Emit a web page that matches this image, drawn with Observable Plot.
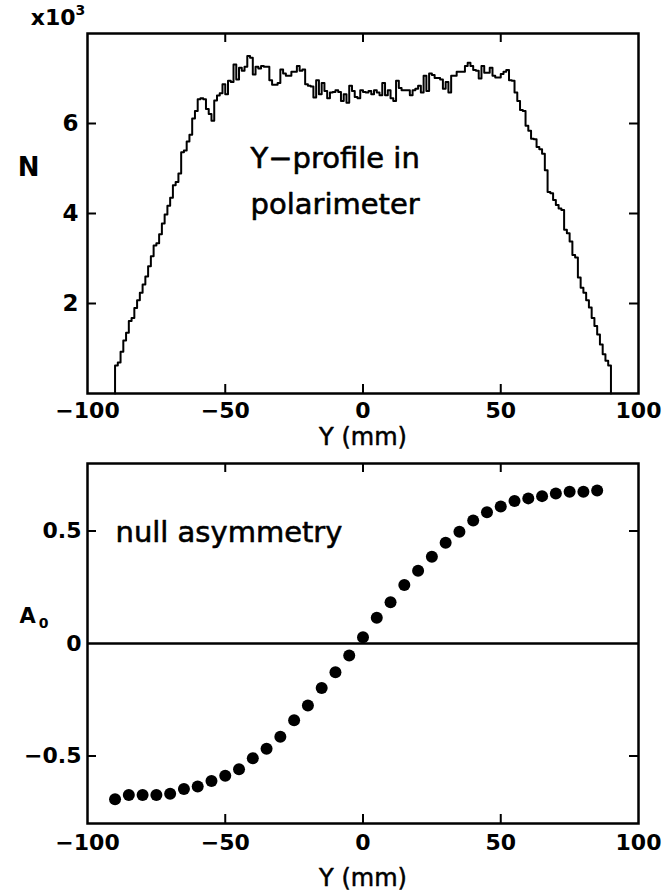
<!DOCTYPE html>
<html><head><meta charset="utf-8">
<script src="https://cdn.jsdelivr.net/npm/d3@7"></script>
<script src="https://cdn.jsdelivr.net/npm/@observablehq/plot@0.6"></script>
<style>
body{margin:0;background:#fff;}
#wrap{position:relative;width:663px;height:895px;background:#fff;}
#topPanel,#botPanel{position:absolute;left:0;}
#topPanel{top:0}#botPanel{top:450px}
</style></head><body><div id="wrap"><div id="topPanel"></div><div id="botPanel"></div></div>
<script>
// ---- Top panel: Y-profile histogram (counts in units of 10^3), 1 mm bins ----
const histBinStart = [-90,-89,-88,-87,-86,-85,-84,-83,-82,-81,-80,-79,-78,-77,-76,-75,-74,-73,-72,-71,
 -70,-69,-68,-67,-66,-65,-64,-63,-62,-61,-60,-59,-58,-57,-56,-55,-54,-53,-52,-51,
 -50,-49,-48,-47,-46,-45,-44,-43,-42,-41,-40,-39,-38,-37,-36,-35,-34,-33,-32,-31,
 -30,-29,-28,-27,-26,-25,-24,-23,-22,-21,-20,-19,-18,-17,-16,-15,-14,-13,-12,-11,
 -10,-9,-8,-7,-6,-5,-4,-3,-2,-1,0,1,2,3,4,5,6,7,8,9,
 10,11,12,13,14,15,16,17,18,19,20,21,22,23,24,25,26,27,28,29,
 30,31,32,33,34,35,36,37,38,39,40,41,42,43,44,45,46,47,48,49,
 50,51,52,53,54,55,56,57,58,59,60,61,62,63,64,65,66,67,68,69,
 70,71,72,73,74,75,76,77,78,79,80,81,82,83,84,85,86,87,88,89];
const histLastEdge = 90;
const histCounts = [0.62,0.69,0.93,1.18,1.35,1.61,1.68,1.90,2.07,2.24,2.42,2.60,2.83,3.05,3.29,3.34,3.54,3.78,3.98,4.17,
 4.35,4.63,4.70,4.89,5.36,5.40,5.60,5.75,6.11,6.28,6.54,6.56,6.54,6.32,6.21,6.06,6.51,6.62,6.67,6.87,
 6.65,6.95,6.92,7.31,6.98,7.24,7.17,7.26,7.50,7.46,7.09,7.26,7.22,7.28,7.26,7.26,6.96,6.86,6.86,6.90,
 7.20,7.11,7.06,7.06,7.15,7.15,7.28,7.17,7.20,6.87,6.84,6.82,6.58,6.96,6.65,6.90,6.72,6.56,6.69,6.70,
 6.74,6.70,6.50,6.65,6.46,6.84,6.72,6.59,6.56,6.74,6.70,6.69,6.72,6.65,6.74,6.69,6.63,6.90,6.63,6.74,
 6.56,6.50,6.95,6.79,6.74,6.74,6.74,6.63,6.74,6.77,6.84,6.69,7.06,6.72,7.11,7.08,7.01,7.01,6.98,6.77,
 6.92,6.69,7.06,7.06,7.15,7.15,7.15,7.28,7.35,7.28,7.19,7.17,7.00,7.28,7.13,7.13,7.24,7.06,7.02,7.02,
 7.10,7.15,7.19,6.96,6.95,6.69,6.50,6.30,6.28,5.95,5.84,5.66,5.65,5.48,5.43,5.33,4.96,4.48,4.45,4.30,
 4.19,4.11,4.08,3.64,3.56,3.38,3.08,3.02,2.58,2.35,2.24,2.07,1.91,1.68,1.50,1.31,1.09,0.87,0.73,0.62];

// ---- Bottom panel: null asymmetry ----
const asymY = [-90,-85,-80,-75,-70,-65,-60,-55,-50,-45,-40,-35,-30,-25,-20,-15,-10,-5,
 0,5,10,15,20,25,30,35,40,45,50,55,60,65,70,75,80,85];
const asymA = [-0.692,-0.673,-0.673,-0.673,-0.668,-0.647,-0.636,-0.611,-0.588,-0.559,-0.510,-0.468,-0.414,-0.341,-0.276,-0.198,-0.128,-0.053,
 0.028,0.114,0.183,0.260,0.323,0.386,0.448,0.497,0.547,0.583,0.609,0.633,0.645,0.655,0.667,0.674,0.674,0.680];

// ---- Ticks / labels ----
const xTickLabelValues = [-100,-50,0,50,100];
const xInnerTicks = [-50,0,50];
const topYTicks = [2,4,6];
const botYTicks = [-0.5,0,0.5];
const botYInnerTicks = [-0.5,0.5];

const FONT = "DejaVu Sans";
const fmt = d => (d < 0 ? "\u2212" : "") + Math.abs(d);

const histPts = [{x: histBinStart[0], y: 0}]
  .concat(histBinStart.map((x, i) => ({x, y: histCounts[i]})))
  .concat([{x: histLastEdge, y: 0}]);

const frameH = 360, frameW = 551, tickLen = 9;

function innerTicks(xt, yt) {
  return [
    Plot.tickX(xt, {x: d => d, insetTop: frameH - tickLen, strokeWidth: 2}),
    Plot.tickX(xt, {x: d => d, insetBottom: frameH - tickLen, strokeWidth: 2}),
    Plot.tickY(yt, {y: d => d, insetRight: frameW - tickLen, strokeWidth: 2}),
    Plot.tickY(yt, {y: d => d, insetLeft: frameW - tickLen, strokeWidth: 2})
  ];
}

const topPlot = Plot.plot({
  width: 663, height: 450,
  marginTop: 33, marginBottom: 57, marginLeft: 87, marginRight: 25,
  style: {fontFamily: FONT, background: "white", color: "black", overflow: "visible"},
  x: {domain: [-100, 100]},
  y: {domain: [0, 8]},
  marks: [
    Plot.line(histPts, {x: "x", y: "y", curve: "step-after", stroke: "black", strokeWidth: 2}),
    ...innerTicks(xInnerTicks, topYTicks),
    Plot.frame({stroke: "black", strokeWidth: 2.5}),
    Plot.axisX(xTickLabelValues, {anchor: "bottom", tickSize: 0, tickPadding: 9, fontSize: 22, fontWeight: "bold", tickFormat: fmt, label: null}),
    Plot.axisY(topYTicks, {anchor: "left", tickSize: 0, tickPadding: 9, fontSize: 23, fontWeight: "bold", tickFormat: fmt, label: null}),
    Plot.text(["Y (mm)"], {frameAnchor: "bottom", dy: 44, fontSize: 24, lineAnchor: "middle", fill: "black", stroke: "black", strokeWidth: 0.5}),
    Plot.text(["N"], {frameAnchor: "left", dx: -59, dy: -46, fontSize: 26, fontWeight: "bold", lineAnchor: "middle", textAnchor: "middle"}),
    Plot.text(["x10"], {frameAnchor: "top-left", dx: -12, dy: -16, fontSize: 22, fontWeight: "bold", lineAnchor: "middle", textAnchor: "end"}),
    Plot.text(["3"], {frameAnchor: "top-left", dx: -12, dy: -23, fontSize: 14, fontWeight: "bold", lineAnchor: "middle", textAnchor: "start"}),
    Plot.text(["Y\u2212profile in"], {frameAnchor: "top-left", dx: 163, dy: 125, fontSize: 29, lineAnchor: "middle", textAnchor: "start", fill: "black", stroke: "black", strokeWidth: 0.6}),
    Plot.text(["polarimeter"], {frameAnchor: "top-left", dx: 163, dy: 171, fontSize: 29, lineAnchor: "middle", textAnchor: "start", fill: "black", stroke: "black", strokeWidth: 0.6})
  ]
});
document.getElementById("topPanel").appendChild(topPlot);

const asymData = asymY.map((y, i) => ({y, a: asymA[i]}));

const botPlot = Plot.plot({
  width: 663, height: 445,
  marginTop: 13, marginBottom: 72, marginLeft: 87, marginRight: 25,
  style: {fontFamily: FONT, background: "white", color: "black", overflow: "visible"},
  x: {domain: [-100, 100]},
  y: {domain: [-0.8, 0.8]},
  marks: [
    Plot.ruleY([0], {stroke: "black", strokeWidth: 2.5}),
    Plot.dot(asymData, {x: "y", y: "a", r: 6, fill: "black", stroke: "none"}),
    ...innerTicks(xInnerTicks, botYInnerTicks),
    Plot.frame({stroke: "black", strokeWidth: 2.5}),
    Plot.axisX(xTickLabelValues, {anchor: "bottom", tickSize: 0, tickPadding: 11, fontSize: 22, fontWeight: "bold", tickFormat: fmt, label: null}),
    Plot.axisY(botYTicks, {anchor: "left", tickSize: 0, tickPadding: 6, fontSize: 22, fontWeight: "bold", tickFormat: fmt, label: null}),
    Plot.text(["Y (mm)"], {frameAnchor: "bottom", dy: 55, fontSize: 24, lineAnchor: "middle", fill: "black", stroke: "black", strokeWidth: 0.5}),
    Plot.text(["A"], {frameAnchor: "left", dx: -60, dy: -27, fontSize: 21, fontWeight: "bold", lineAnchor: "middle", textAnchor: "middle"}),
    Plot.text(["0"], {frameAnchor: "left", dx: -44, dy: -20, fontSize: 14, fontWeight: "bold", lineAnchor: "middle", textAnchor: "middle"}),
    Plot.text(["null asymmetry"], {frameAnchor: "top-left", dx: 28, dy: 69, fontSize: 29, lineAnchor: "middle", textAnchor: "start", fill: "black", stroke: "black", strokeWidth: 0.6})
  ]
});
document.getElementById("botPanel").appendChild(botPlot);
</script></body></html>
